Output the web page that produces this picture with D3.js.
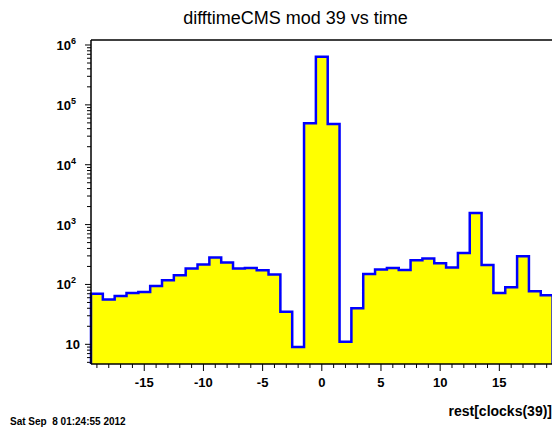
<!DOCTYPE html>
<html>
<head>
<meta charset="utf-8">
<script src="https://cdn.jsdelivr.net/npm/d3@7"></script>
<style>
  body { margin: 0; background: #fff; }
  svg { display: block; font-family: "Liberation Sans", Arial, sans-serif; }
</style>
</head>
<body>
<script>
'use strict';

// bin centres (clocks) and entries
const binCenters = [-19, -18, -17, -16, -15, -14, -13, -12, -11, -10,
  -9, -8, -7, -6, -5, -4, -3, -2, -1, 0,
  1, 2, 3, 4, 5, 6, 7, 8, 9, 10,
  11, 12, 13, 14, 15, 16, 17, 18, 19];
const binCounts = [70, 56, 64, 72, 75, 94, 118, 143, 185, 215,
  282, 233, 185, 188, 173, 147, 35, 9, 49500, 638000,
  48000, 11, 40, 149, 178, 189, 175, 254, 271, 226,
  192, 336, 1560, 212, 72, 90, 296, 77, 66];
const xTickValues = [-15, -10, -5, 0, 5, 10, 15];
const yTickExponents = [1, 2, 3, 4, 5, 6];

const titleText = "difftimeCMS mod 39 vs time";
const xTitle = "rest[clocks(39)]";
const dateText = "Sat Sep  8 01:24:55 2012";

const width = 552, height = 427;
const frame = { left: 91, right: 552.6, top: 40, bottom: 364 };

const svg = d3.select('body').append('svg')
  .attr('width', width)
  .attr('height', height);

// scales
const x = d3.scaleLinear()
  .domain([-19.5, 19.5])
  .range([frame.left, frame.right]);
const y = d3.scaleLog()
  .domain([4.69, 1.212e6])
  .range([frame.bottom, frame.top]);

// histogram outline as steps
let pts = [[x(-19.5), frame.bottom]];
binCenters.forEach((c, i) => {
  pts.push([x(c - 0.5), y(binCounts[i])]);
  pts.push([x(c + 0.5), y(binCounts[i])]);
});
pts.push([x(19.5), frame.bottom]);

const line = d3.line();
svg.append('path')
  .attr('d', line(pts) + 'Z')
  .attr('fill', '#ffff00')
  .attr('stroke', 'none');
svg.append('path')
  .attr('d', line(pts))
  .attr('fill', 'none')
  .attr('stroke', '#0000ff')
  .attr('stroke-width', 2.5)
  .attr('stroke-linejoin', 'miter');

// frame top
svg.append('line')
  .attr('x1', frame.left).attr('x2', width)
  .attr('y1', frame.top).attr('y2', frame.top)
  .attr('stroke', '#000').attr('stroke-width', 1.5);

// x axis
let xMinor = d3.range(-19, 20);
let xAxisG = svg.append('g');
xAxisG.append('line')
  .attr('x1', frame.left).attr('x2', width)
  .attr('y1', frame.bottom).attr('y2', frame.bottom)
  .attr('stroke', '#000').attr('stroke-width', 1.5);
xAxisG.selectAll('.xminor')
  .data(xMinor)
  .enter().append('line')
  .attr('x1', d => x(d)).attr('x2', d => x(d))
  .attr('y1', frame.bottom)
  .attr('y2', d => frame.bottom + (d % 5 === 0 ? 7 : 4))
  .attr('stroke', '#000').attr('stroke-width', 1);
xAxisG.selectAll('.xlab')
  .data(xTickValues)
  .enter().append('text')
  .attr('x', d => x(d))
  .attr('y', 387)
  .attr('text-anchor', 'middle')
  .style('font-size', '13px')
  .style('font-weight', 'bold')
  .text(d => d);

// y axis
let yAxisG = svg.append('g');
yAxisG.append('line')
  .attr('x1', frame.left).attr('x2', frame.left)
  .attr('y1', frame.top).attr('y2', frame.bottom)
  .attr('stroke', '#000').attr('stroke-width', 1.5);
let yMinor = [];
for (let e = 0; e <= 6; e++) {
  for (let m = 1; m <= 9; m++) {
    let v = m * Math.pow(10, e);
    if (v >= 4.69 && v <= 1.212e6) yMinor.push(v);
  }
}
yAxisG.selectAll('.yminor')
  .data(yMinor)
  .enter().append('line')
  .attr('x1', frame.left)
  .attr('x2', d => frame.left - (Math.abs(Math.log10(d) % 1) < 1e-9 ? 6 : 4))
  .attr('y1', d => y(d)).attr('y2', d => y(d))
  .attr('stroke', '#000').attr('stroke-width', 1);
let yLab = yAxisG.selectAll('.ylab')
  .data(yTickExponents)
  .enter().append('text')
  .attr('x', d => d === 1 ? 80 : 76)
  .attr('y', d => y(Math.pow(10, d)) + 5)
  .attr('text-anchor', 'end')
  .style('font-size', '13px')
  .style('font-weight', 'bold');
yLab.append('tspan').text('10');
yLab.filter(d => d > 1).append('tspan')
  .attr('dy', -6)
  .style('font-size', '9px')
  .text(d => d);

// labels
svg.append('text')
  .attr('x', 295.5)
  .attr('y', 24)
  .attr('text-anchor', 'middle')
  .style('font-size', '18px')
  .text(titleText);
svg.append('text')
  .attr('x', 552)
  .attr('y', 416)
  .attr('text-anchor', 'end')
  .style('font-size', '14px')
  .style('font-weight', 'bold')
  .text(xTitle);
svg.append('text')
  .attr('x', 10)
  .attr('y', 425)
  .style('font-size', '10px')
  .style('font-weight', 'bold')
  .style('white-space', 'pre')
  .text(dateText);
</script>
</body>
</html>
